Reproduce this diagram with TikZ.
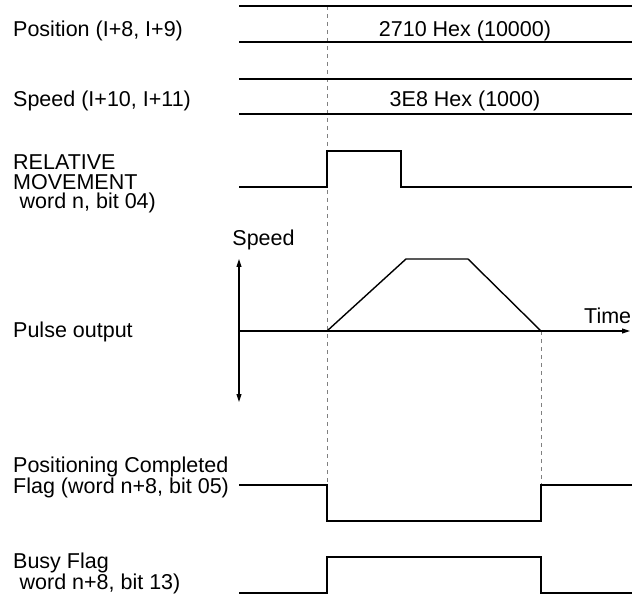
\documentclass[tikz,border=0pt]{standalone}
\usepackage{fontspec}
\setmainfont{Liberation Sans}
\usetikzlibrary{arrows.meta}

\tikzset{
  wave/.style={line width=1.4pt,line join=miter},
  guide/.style={gray,line width=0.7pt,dash pattern=on 4pt off 4pt},
  axis/.style={line width=1.1pt,-{Triangle[length=8pt,width=5pt]}},
  lbl/.style={anchor=base west,inner sep=0pt,align=left,font=\fontsize{21.5pt}{19.5pt}\selectfont},
  val/.style={anchor=base,inner sep=0pt,font=\fontsize{21.5pt}{19.5pt}\selectfont}
}

\begin{document}
\begin{tikzpicture}[x=1pt,y=-1pt]
  \useasboundingbox (0,0) rectangle (632,596);
  % guides
  \draw[guide] (327,6)--(327,485);
  \draw[guide] (541,331)--(541,485);
  % data words
  \draw[wave] (239,6)--(632,6); \draw[wave] (239,42)--(632,42);
  \draw[wave] (239,79)--(632,79); \draw[wave] (239,114)--(632,114);
  \node[val] (pos) at (465,37) {2710 Hex (10000)};
  \node[val] (spd) at (465,107) {3E8 Hex (1000)};
  % start pulse
  \draw[wave] (239,187)--(327,187)--(327,151)--(401,151)--(401,187)--(632,187);
  % speed profile
  \draw[axis] (239,331)--(630,331);
  \draw[axis,{Triangle[length=8pt,width=5pt]}-{Triangle[length=8pt,width=5pt]}] (239,402)--(239,259);
  \draw[wave] (327,331)--(406,259)--(468,259)--(541,331);
  \node[val] (vaxis) at (263.5,246) {Speed};
  \node[lbl] (taxis) at (584,323) {Time};
  % flags
  \draw[wave] (239,485)--(327,485)--(327,521)--(541,521)--(541,485)--(632,485);
  \draw[wave] (239,593)--(327,593)--(327,557)--(541,557)--(541,593)--(632,593);
  % left labels
  \node[lbl] (lpos) at (13,37) {Position (I+8, I+9)};
  \node[lbl] (lspd) at (13,107) {Speed (I+10, I+11)};
  \node[lbl,anchor=north west] (lrel) at (13,155) {RELATIVE\\MOVEMENT\\\hspace*{0.3em}word n, bit 04)};
  \node[lbl] (lpul) at (13,337) {Pulse output};
  \node[lbl,anchor=north west] (lpcf) at (13,457) {Positioning Completed\\Flag (word n+8, bit 05)};
  \node[lbl,anchor=north west] (lbsy) at (13,553) {Busy Flag\\\hspace*{0.3em}word n+8, bit 13)};
\end{tikzpicture}
\end{document}
